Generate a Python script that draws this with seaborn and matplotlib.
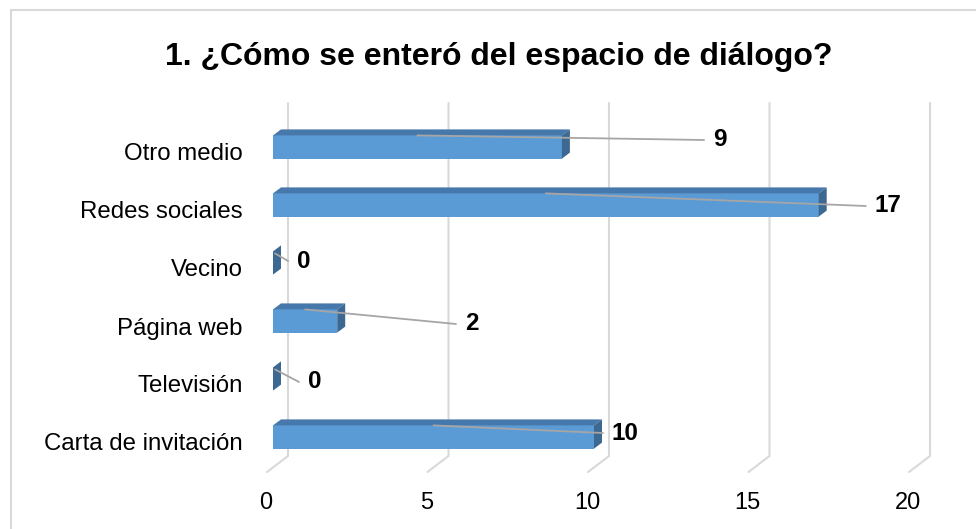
import matplotlib
matplotlib.use("Agg")
import matplotlib.pyplot as plt
import matplotlib.transforms as mtransforms
from matplotlib.patches import Polygon, Rectangle
import seaborn as sns
import pandas as pd

# ---- data ----
categories = ["Otro medio", "Redes sociales", "Vecino", "Página web", "Televisión", "Carta de invitación"]
values = [9, 17, 0, 2, 0, 10]
x_ticks = [0, 5, 10, 15, 20]
x_tick_labels = ["0", "5", "10", "15", "20"]
title = "1. ¿Cómo se enteró del espacio de diálogo?"

# ---- layout of the data labels (left edge in x data units, vertical shift in px) ----
label_left = [13.71, 18.75, 0.75, 5.98, 1.09, 10.56]
label_dy_px = [-7, 1, -2, 3, 3, -4]

sns.set_style("white")
plt.rcParams["font.family"] = ["Liberation Sans", "DejaVu Sans"]
plt.rcParams["text.color"] = "black"

W, H = 976, 529
fig = plt.figure(figsize=(W / 100, H / 100), dpi=100)
ax_left, ax_right, ax_top, ax_bottom = 273, 915, 118, 466
ax = fig.add_axes([ax_left / W, 1 - ax_bottom / H, (ax_right - ax_left) / W, (ax_bottom - ax_top) / H])

df = pd.DataFrame({"cat": categories, "val": values})
sns.barplot(data=df, x="val", y="cat", order=categories, orient="h", color="#5B9BD5",
            saturation=1, width=0.4, ax=ax, zorder=3, edgecolor="none")
ax.set_xlim(0, 20)
ax.set_ylim(5.5, -0.5)
for s in ax.spines.values():
    s.set_visible(False)
ax.grid(False)
ax.set_xlabel("")
ax.set_ylabel("")

ppx = (ax_right - ax_left) / 20.0
ppy = (ax_bottom - ax_top) / 6.0

# back-wall gridlines with floor slant
for v in x_ticks:
    xs = [v + 15 / ppx, v + 15 / ppx, v - 6 / ppx]
    ys = [-0.5 - 15 / ppy, -0.5 + (456 - ax_top) / ppy, -0.5 + (472 - ax_top) / ppy]
    ax.plot(xs, ys, color="#D9D9D9", lw=1.5, zorder=1, clip_on=False, solid_joinstyle="miter")

# 3D faces of the bars
dxd = 8 / ppx
dyd = -6 / ppy
for p in ax.patches[:len(values)]:
    x0, w = p.get_x(), p.get_width()
    y0, h = p.get_y(), p.get_height()
    x1 = x0 + w
    ytop, ybot = y0, y0 + h
    if w > 0:
        ax.add_patch(Polygon([(x0, ytop), (x1, ytop), (x1 + dxd, ytop + dyd), (x0 + dxd, ytop + dyd)],
                             closed=True, facecolor="#4778AB", edgecolor="none", zorder=4, clip_on=False))
    ax.add_patch(Polygon([(x1, ytop), (x1 + dxd, ytop + dyd), (x1 + dxd, ybot + dyd), (x1, ybot)],
                         closed=True, facecolor="#3D6891", edgecolor="none", zorder=4, clip_on=False))

# data labels with leader lines
for i, v in enumerate(values):
    ly = i + label_dy_px[i] / ppy
    ax.text(label_left[i], ly, str(v), ha="left", va="center", fontsize=17.5,
            fontweight="bold", color="black", zorder=6)
    sx = v / 2 if v > 0 else 2 / ppx
    sy = i - 0.2 + (0 if v > 0 else 2 / ppy)
    ax.plot([sx, label_left[i] - 9 / ppx], [sy, ly], color="#A6A6A6", lw=1.3, zorder=5, clip_on=False)

# ticks
ax.set_xticks(x_ticks)
ax.set_xticklabels(x_tick_labels)
ax.tick_params(axis="x", length=0, pad=18.5, labelsize=17, colors="black")
ax.tick_params(axis="y", length=0, pad=22, labelsize=17.3, colors="black")
xoff = mtransforms.ScaledTranslation(-7 / 100, 0, fig.dpi_scale_trans)
for lab in ax.get_xticklabels():
    lab.set_transform(lab.get_transform() + xoff)
yoff = mtransforms.ScaledTranslation(0, -5 / 100, fig.dpi_scale_trans)
for lab in ax.get_yticklabels():
    lab.set_transform(lab.get_transform() + yoff)

# title
fig.text(499 / W, 1 - 57 / H, title, ha="center", va="center", fontsize=23,
         fontweight="bold", color="black")

# chart-area border
fig.patches.append(Rectangle((10.5 / W, -0.2), 1.2, 1 - 10.5 / H + 0.2, transform=fig.transFigure,
                             fill=False, edgecolor="#D9D9D9", lw=1.5, zorder=0))

fig.savefig("out.png", dpi=100)
